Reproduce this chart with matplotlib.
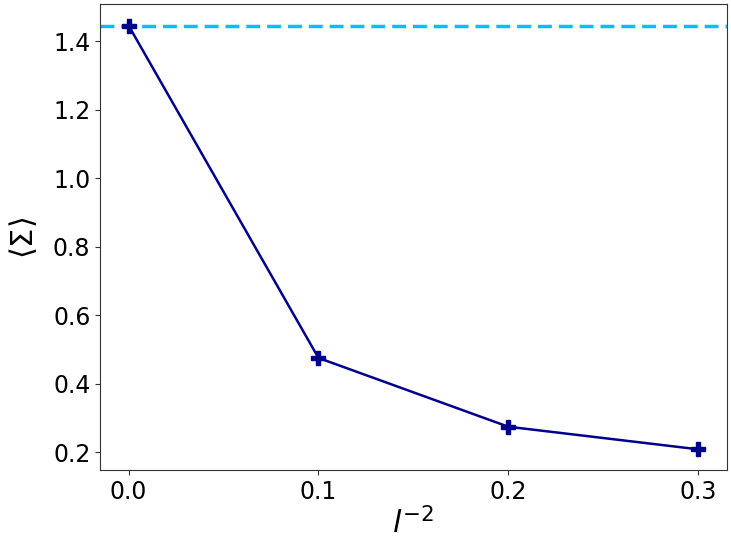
import matplotlib
matplotlib.use("Agg")
import matplotlib.pyplot as plt

# inverse squared length vs mean Sigma
inv_l2 = [0.0, 0.1, 0.2, 0.3]
sigma_mean = [1.446, 0.475, 0.274, 0.208]
sigma_ref = 1.446

fig = plt.figure(figsize=(7.31, 5.49), dpi=100)
ax = fig.add_axes([0.137, 0.143, 0.857, 0.849])

ax.axhline(sigma_ref, color='deepskyblue', linestyle='--', linewidth=2.5, dashes=(4, 2))
ax.plot(inv_l2, sigma_mean, color='darkblue', marker='P', markersize=10, linewidth=1.8)

ax.set_xticks([0.0, 0.1, 0.2, 0.3])
ax.set_yticks([0.2, 0.4, 0.6, 0.8, 1.0, 1.2, 1.4])
ax.tick_params(labelsize=17, color='#333333')
for sp in ax.spines.values():
    sp.set_color('#333333')
ax.set_xlabel(r'$l^{-2}$', fontsize=22, labelpad=2)
ax.set_ylabel(r'$\langle \Sigma \rangle$', fontsize=22, labelpad=10)

fig.savefig('out.png', dpi=100)
